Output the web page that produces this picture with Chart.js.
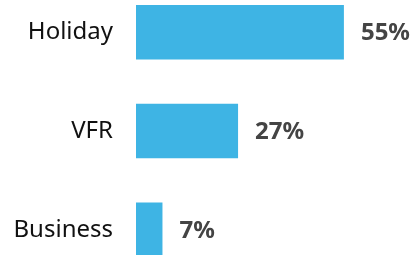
<!DOCTYPE html>
<html>
<head>
<meta charset="utf-8">
<script src="https://cdn.jsdelivr.net/npm/chart.js@4"></script>
<style>
  html, body { margin: 0; padding: 0; background: #fff; overflow: hidden; }
  #chart { position: absolute; left: 0; top: -17px; }
</style>
</head>
<body>
<canvas id="chart" width="418" height="296"></canvas>
<script>
let categories = ["Holiday", "VFR", "Business"];
let shares = [55, 27, 7];
let valueLabels = ["55%", "27%", "7%"];

let barColor = "#3eb4e4";

// draws the percent next to each bar end
let valuePlugin = {
    id: "valueLabels",
    afterDatasetsDraw(chart) {
        let ctx = chart.ctx;
        let meta = chart.getDatasetMeta(0);
        ctx.save();
        ctx.font = "bold 24px 'Noto Sans'";
        ctx.fillStyle = "#444444";
        ctx.textAlign = "left";
        ctx.textBaseline = "middle";
        meta.data.forEach((bar, i) => {
            ctx.fillText(valueLabels[i], bar.x + 17, bar.y + 1);
        });
        ctx.restore();
    }
};

new Chart(document.getElementById("chart"), {
    type: "bar",
    data: {
        labels: categories,
        datasets: [{
            data: shares,
            backgroundColor: barColor,
            barPercentage: 0.553,
            categoryPercentage: 1
        }]
    },
    options: {
        indexAxis: "y",
        responsive: false,
        animation: false,
        layout: { padding: 0 },
        plugins: {
            legend: { display: false },
            tooltip: { enabled: false }
        },
        scales: {
            x: {
                display: false,
                min: 0,
                max: 74.6
            },
            y: {
                border: { display: false },
                grid: { display: false, drawTicks: false },
                ticks: {
                    padding: 23,
                    color: "#111111",
                    font: { family: "Noto Sans", size: 24 }
                },
                afterFit(scale) {
                    scale.width = 136;
                    scale.paddingTop = 0;
                    scale.paddingBottom = 0;
                }
            }
        }
    },
    plugins: [valuePlugin]
});
</script>
</body>
</html>
